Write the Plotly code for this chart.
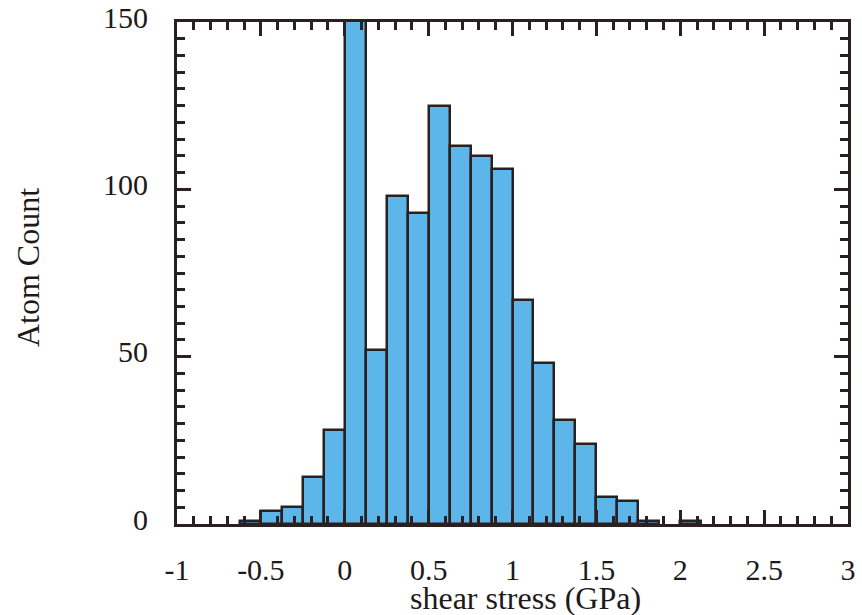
import plotly.graph_objects as go

# Histogram of per-atom shear stress, 0.125 GPa bins starting at -1 GPa
bin_width = 0.125
bin_left = [-0.625, -0.5, -0.375, -0.25, -0.125, 0.0, 0.125, 0.25, 0.375, 0.5,
            0.625, 0.75, 0.875, 1.0, 1.125, 1.25, 1.375, 1.5, 1.625, 1.75, 2.0]
atom_count = [1, 4, 5, 14, 28, 190, 52, 98, 93, 125,
              113, 110, 106, 67, 48, 31, 24, 8, 7, 1, 1]

x_ticks = [-1, -0.5, 0, 0.5, 1, 1.5, 2, 2.5, 3]
x_tick_text = ["-1", "-0.5", "0", "0.5", "1", "1.5", "2", "2.5", "3"]
y_ticks = [0, 50, 100, 150]

centers = [b + bin_width / 2 for b in bin_left]

ink = "#2a2020"
family = "Liberation Serif, Times New Roman, serif"
tick_font = dict(family=family, size=30, color="#1e1a1a")
title_font = dict(family=family, size=32, color="#1e1a1a")

fig = go.Figure(
    go.Bar(
        x=centers,
        y=atom_count,
        width=bin_width,
        marker=dict(color="#5cb6ea", line=dict(color=ink, width=2.5)),
        hoverinfo="skip",
    )
)

axis_common = dict(
    showline=True,
    linecolor=ink,
    linewidth=3,
    mirror="allticks",
    ticks="inside",
    ticklen=14,
    tickwidth=2.5,
    tickcolor=ink,
    showgrid=False,
    zeroline=False,
    layer="above traces",
    tickfont=tick_font,
    automargin=False,
)

fig.update_xaxes(
    range=[-1, 3],
    tickvals=x_ticks,
    ticktext=x_tick_text,
    minor=dict(dtick=0.1, ticks="inside", ticklen=8, tickwidth=2.5, tickcolor=ink, showgrid=False),
    ticklabelstandoff=17,
    **axis_common,
)
fig.update_yaxes(
    range=[0, 150],
    tickvals=y_ticks,
    minor=dict(dtick=5, ticks="inside", ticklen=8, tickwidth=2.5, tickcolor=ink, showgrid=False),
    ticklabelstandoff=20,
    ticklabelshift=-5,
    **axis_common,
)

fig.update_layout(
    width=862,
    height=615,
    margin=dict(l=177, r=14, t=22, b=91),
    paper_bgcolor="white",
    plot_bgcolor="white",
    showlegend=False,
    bargap=0,
    annotations=[
        dict(text="shear stress (GPa)", x=0.519, y=-0.147, xref="paper", yref="paper",
             xanchor="center", yanchor="middle", showarrow=False, font=title_font),
        dict(text="Atom Count", x=-0.222, y=0.51, xref="paper", yref="paper",
             xanchor="center", yanchor="middle", textangle=-90, showarrow=False, font=title_font),
    ],
)

fig.write_html("out.html")
